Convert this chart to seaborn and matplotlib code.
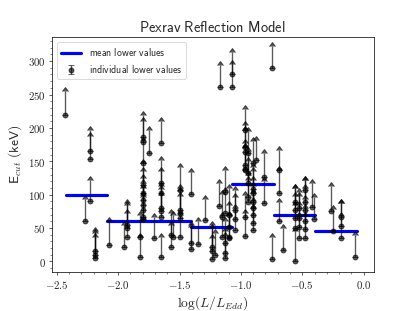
import numpy as np
import pandas as pd
import matplotlib
matplotlib.use("Agg")
import matplotlib.pyplot as plt
import seaborn as sns
from matplotlib.ticker import FuncFormatter, AutoMinorLocator

# lower limits: x = log(L/Ledd), y = Ecut lower value, top = arrow end
x_vals = [-2.43, -2.226, -2.226, -2.226, -2.27, -2.19, -2.19, -2.19, -2.075,
          -1.95, -1.927, -1.927, -1.927, -1.82, -1.82,
          -1.80, -1.80, -1.80, -1.80, -1.80, -1.80, -1.80, -1.80, -1.80, -1.80,
          -1.75, -1.71, -1.65, -1.65, -1.65, -1.65, -1.65, -1.65, -1.65,
          -1.57, -1.57, -1.55, -1.50, -1.50, -1.50, -1.50, -1.50,
          -1.41, -1.41, -1.41, -1.347, -1.293, -1.234, -1.234, -1.234, -1.21,
          -1.18, -1.167, -1.153, -1.153, -1.129, -1.129, -1.129, -1.129, -1.129,
          -1.094, -1.094, -1.094, -1.094, -1.073, -1.073, -1.046, -1.046, -1.046,
          -0.97, -0.97, -0.97, -0.97, -0.97, -0.97, -0.97, -0.97,
          -0.944, -0.944, -0.944, -0.944, -0.944,
          -0.903, -0.903, -0.903, -0.903, -0.903, -0.903, -0.903, -0.903,
          -0.877, -0.815, -0.815, -0.75, -0.75, -0.69, -0.69, -0.69, -0.656,
          -0.556, -0.556, -0.556, -0.556, -0.556,
          -0.527, -0.527, -0.527, -0.527,
          -0.476, -0.476, -0.476, -0.476, -0.476, -0.476,
          -0.42, -0.403, -0.27, -0.25, -0.188, -0.188, -0.188, -0.067]
y_vals = [220, 165, 153, 90, 61, 15, 10, 5, 25,
          21, 55, 50, 37, 37, 6,
          187, 179, 147, 114, 102, 92, 85, 77, 67, 63,
          163, 35, 178, 118, 102, 80, 75, 67, 6,
          21, 39, 37, 107, 77, 72, 65, 37,
          101, 27, 19, 26, 62, 22, 16, 3, 10,
          83, 261, 67, 36, 104, 72, 27, 12, 5,
          70, 52, 37, 35, 262, 281, 77, 63, 47,
          197, 172, 164, 144, 139, 137, 67, 38,
          162, 132, 117, 97, 89,
          147, 109, 102, 89, 80, 70, 58, 47,
          152, 127, 87, 289, 3, 137, 103, 60, 17,
          89, 77, 65, 50, 0,
          80, 65, 52, 35,
          107, 89, 77, 60, 48, 35,
          82, 63, 76, 45, 67, 53, 35, 6]
top_vals = [255, 197, 188, 122, 94, 45, 42, 37, 60,
            55, 88, 84, 72, 70, 37,
            219, 210, 180, 147, 135, 125, 118, 110, 100, 96,
            197, 67, 210, 152, 135, 113, 108, 100, 37,
            55, 72, 69, 142, 110, 105, 98, 70,
            134, 55, 52, 60, 94, 54, 50, 35, 42,
            117, 294, 101, 68, 137, 105, 60, 45, 38,
            110, 85, 70, 68, 296, 313, 107, 96, 80,
            229, 205, 197, 177, 172, 170, 100, 72,
            195, 165, 150, 130, 122,
            180, 142, 135, 122, 113, 103, 91, 80,
            182, 162, 120, 323, 37, 167, 137, 89, 50,
            110, 110, 98, 85, 45,
            104, 98, 85, 68,
            122, 122, 110, 93, 80, 68,
            117, 97, 113, 79, 87, 87, 68, 40]

# binned mean lower values
bin_left = [-2.427, -2.088, -1.749, -1.41, -1.072, -0.733, -0.394]
bin_right = [-2.088, -1.749, -1.41, -1.072, -0.733, -0.394, -0.056]
bin_mean = [100, 60, 60, 51, 116, 69, 46]

plt.rcParams["mathtext.fontset"] = "cm"
sns.set_style("ticks")

fig, ax = plt.subplots(figsize=(6.4, 4.8), dpi=415 / 6.4)

bins = pd.DataFrame({
    "x": bin_left + bin_right,
    "y": bin_mean + bin_mean,
    "bin": list(range(len(bin_mean))) * 2,
})
sns.lineplot(data=bins, x="x", y="y", units="bin", estimator=None,
             color="blue", lw=3.5, ax=ax, legend=False)
line_handle = ax.lines[0]

x = np.array(x_vals)
y = np.array(y_vals)
err = np.array(top_vals) - y
eb = ax.errorbar(x, y, yerr=[np.zeros_like(err), err], lolims=True,
                 fmt="o", color="k", ms=5.5, lw=1.5, capsize=3, alpha=0.65)

ax.legend([line_handle, eb],
          [r"$\mathsf{mean\ lower\ values}$", r"$\mathsf{individual\ lower\ values}$"],
          loc="upper left", fontsize=11)

ax.set_title(r"$\mathsf{Pexrav\ Reflection\ Model}$", fontsize=16)
ax.set_xlabel(r"$\log(L/L_{Edd})$", fontsize=15)
ax.set_ylabel(r"$\mathsf{E}_{cut}\ \mathsf{(keV)}$", fontsize=15)

ax.set_xlim(-2.54, 0.08)
ax.set_ylim(-16, 336)
ax.set_xticks([-2.5, -2.0, -1.5, -1.0, -0.5, 0.0])
ax.set_yticks([0, 50, 100, 150, 200, 250, 300])
ax.xaxis.set_major_formatter(FuncFormatter(lambda v, p: f"${v:.1f}$"))
ax.yaxis.set_major_formatter(FuncFormatter(lambda v, p: f"${v:.0f}$"))
ax.xaxis.set_minor_locator(AutoMinorLocator(5))
ax.yaxis.set_minor_locator(AutoMinorLocator(5))
ax.tick_params(labelsize=12)
for s in ax.spines.values():
    s.set_visible(True)
    s.set_color("k")

fig.subplots_adjust(left=0.125, right=0.9, top=0.88, bottom=0.125)
fig.savefig("out.png")
